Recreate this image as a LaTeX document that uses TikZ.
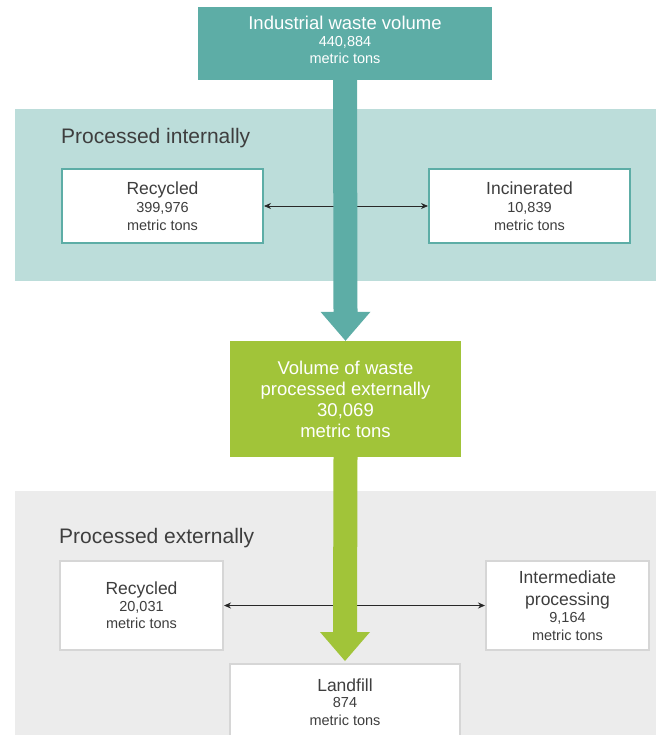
\documentclass[tikz,border=0pt]{standalone}
\usepackage{fontspec}
\setmainfont{Liberation Sans}
\usepackage{tikz}
\usetikzlibrary{arrows.meta, positioning, calc}
\definecolor{myteal}{RGB}{93,173,166}
\definecolor{mylightteal}{RGB}{188,221,218}
\definecolor{mygreen}{RGB}{161,196,57}
\definecolor{mygrey}{RGB}{236,236,236}
\definecolor{myborder}{RGB}{214,214,214}
\definecolor{mytext}{RGB}{62,62,62}
\definecolor{mydark}{RGB}{40,40,40}
\newcommand{\hdrsize}{\fontsize{18.5}{18}\selectfont}
\newcommand{\titlesize}{\fontsize{17.5}{18}\selectfont}
\newcommand{\numsize}{\fontsize{14.5}{17.5}\selectfont}
\tikzset{
  bandlabel/.style={anchor=west, inner sep=0pt, font=\fontsize{21}{24}\selectfont, text=mytext},
  topbox/.style={rectangle, fill=myteal, draw=none, text=white, align=center,
    minimum width=294pt, minimum height=73pt, inner sep=0pt,
    font=\fontsize{14.5}{17}\selectfont, text depth=7pt},
  midbox/.style={rectangle, fill=mygreen, draw=none, text=white, align=center,
    minimum width=231pt, minimum height=116pt, inner sep=0pt,
    font=\fontsize{18.5}{21}\selectfont},
  tealbox/.style={rectangle, fill=white, draw=myteal, line width=2pt, text=mytext,
    align=center, minimum width=201pt, minimum height=74pt, inner sep=0pt, font=\numsize},
  greybox/.style={rectangle, fill=white, draw=myborder, line width=2pt, text=mytext,
    align=center, minimum width=163pt, minimum height=89pt, inner sep=0pt, font=\numsize},
  arrow/.style={{Stealth[length=7pt,width=6pt]}-{Stealth[length=7pt,width=6pt]},
    line width=0.8pt, color=mydark}
}

\begin{document}
\begin{tikzpicture}[x=1pt, y=-1pt]
  \useasboundingbox (0,0) rectangle (656,735);

  % Background bands
  \fill[mylightteal] (15,109) rectangle (656,281);
  \fill[mygrey] (15,491) rectangle (656,735);
  \node[bandlabel] (inthdr) at (61,138) {Processed internally};
  \node[bandlabel] (exthdr) at (59,538) {Processed externally};

  % Main boxes
  \node[topbox] (total) at (345,43.5) {{\hdrsize Industrial waste volume}\\
    440,884\\ metric tons};
  \node[midbox] (external) at (345.5,399) {Volume of waste\\ processed externally\\
    30,069\\ metric tons};

  % Internal processing
  \node[tealbox] (intrec) at (162.5,206) {{\titlesize Recycled}\\[1pt]
    399,976\\ metric tons};
  \node[tealbox] (intinc) at (529.5,206) {{\titlesize Incinerated}\\[1pt]
    10,839\\ metric tons};
  \draw[arrow] (intrec.east) -- (intinc.west);

  % External processing
  \node[greybox] (extrec) at (141.5,605.5) {{\titlesize Recycled}\\[-1pt]
    20,031\\ metric tons};
  \node[greybox] (extint) at (567.5,605.5) {{\titlesize Intermediate}\\[4pt]
    {\titlesize processing}\\ 9,164\\ metric tons};
  \node[greybox, minimum width=230pt, minimum height=76pt] (landfill) at (345,702)
    {{\titlesize Landfill}\\[-1pt] 874\\ metric tons};
  \draw[arrow] (extrec.east) -- (extint.west);

  % Flow stems with heads
  \fill[myteal] ($(total.south)+(-12,0)$) -- ($(total.south)+(12,0)$)
    -- ($(external.north)+(12,-29)$) -- ($(external.north)+(25,-29)$)
    -- (external.north) -- ($(external.north)+(-25,-29)$)
    -- ($(external.north)+(-12,-29)$) -- cycle;
  \fill[mygreen] ($(external.south)+(-12,0)$) -- ($(external.south)+(12,0)$)
    -- ($(landfill.north)+(12,-31)$) -- ($(landfill.north)+(25,-31)$)
    -- ($(landfill.north)+(0,-2)$) -- ($(landfill.north)+(-25,-31)$)
    -- ($(landfill.north)+(-12,-31)$) -- cycle;
\end{tikzpicture}
\end{document}
